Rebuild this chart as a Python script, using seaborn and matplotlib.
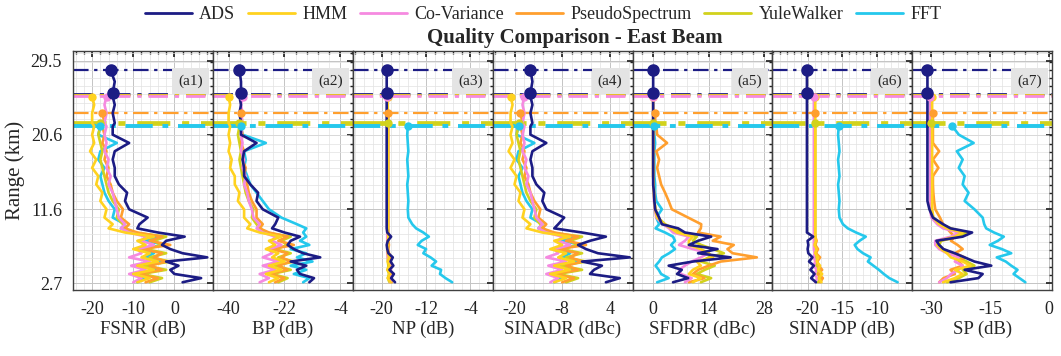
import pandas as pd
import seaborn as sns
import matplotlib.pyplot as plt
from matplotlib.lines import Line2D
from matplotlib.ticker import AutoMinorLocator

# common range grid (km), profiles stop at each method's max range
range_km = [2.8, 3.3, 3.8, 4.3, 4.8, 5.3, 5.8, 6.3, 6.8, 7.3, 7.8, 8.3, 8.8, 9.3, 9.8,
            10.6, 11.6, 12.6, 13.6, 14.6, 15.6, 16.6, 17.6, 18.6, 19.6, 20.6, 21.6,
            22.0, 23.2, 24.2, 25.2, 25.6, 27.0, 28.4]

methods = ['ADS', 'HMM', 'Co-Variance', 'PseudoSpectrum', 'YuleWalker', 'FFT']
colors = ['#1c1c84', '#ffd21f', '#f58ae0', '#ff9f2e', '#d2d21c', '#25c8ec']

# FSNR (dB)
fsnr_ads = [2, 6.5, 0, -1, 1, -2, 8, 2, -1, -3, -2, 2.5, -4, -9, -8.5, -6.5, -11, -12, -11.5, -13.5,
            -14.5, -14.5, -15, -14.5, -11, -15, -15, -14.5, -15, -14.5, -15, -15, -14.5, -15.5]
fsnr_hmm = [-9, -6, -10, -5, -9, -4, -8, -6, -10, -7, -9, -5, -12, -16, -15, -17, -16.5, -18, -17.5, -19,
            -18.5, -20, -19, -20.5, -19.5, -20, -19.5, -20, -20, -19.5, -20]
fsnr_cov = [-10, -8, -11, -7, -10.5, -6, -11, -8, -9, -5, -8, -7, -11, -13, -12, -13.5, -14, -14.5, -15, -16,
            -15.5, -16.5, -16, -17, -16.5, -17, -16.5, -17, -16.5, -17, -16.5]
fsnr_psd = [-7, -4, -9, -3, -6, -2, -5, -3, -8, -1, -6, -3, -9, -12, -11, -13, -12.5, -14, -15, -15.5,
            -16.5, -16, -17, -16.5, -17.5, -17, -17.5, -17, -17.5]
fsnr_yw = [-6, -3, -8, -2, -7, -1, -6, -2, -7, -3, -5, -2, -10, -12, -12.5, -14, -13.5, -15, -16, -16.5,
           -17, -17.5, -18, -17.5, -18, -18.5, -18, -18]
fsnr_fft = [-9, -7, -10, -4, -8, -3, -7, -5, -9, -2, -7, -4, -10, -13, -12, -15, -14.5, -16, -17, -17.5,
            -18, -17, -18.5, -18, -14, -18.5, -18]

# BP (dB)
bp_ads = [-14, -12.5, -17, -18, -15, -20, -10.5, -16, -19, -21, -20, -17, -22, -26, -25, -24, -29, -31, -30.5, -33,
          -35, -35, -35.5, -35, -31, -36, -36, -36, -36.5, -36, -36.5, -36, -36, -36.5]
bp_hmm = [-27, -24, -28, -23, -27, -22, -26, -24, -28, -25, -27, -23, -30, -34, -33, -35, -35, -37, -36.5, -38,
          -38, -39.5, -39, -40, -39.5, -40, -39.5, -40, -40, -39.5, -40]
bp_cov = [-30, -27, -30, -25, -29, -24, -29, -26, -27, -23, -26, -25, -29, -31, -30, -32, -32.5, -33.5, -34, -35,
          -34.5, -35.5, -35, -36, -35.5, -36, -35.5, -36, -35.5, -36, -35.5]
bp_psd = [-25, -22, -27, -21, -24, -20, -23, -21, -26, -19, -24, -21, -27, -30, -29, -31, -31, -32.5, -33.5, -34,
          -35, -34.5, -35.5, -35, -36, -35.5, -36, -35.5, -36]
bp_yw = [-24, -21, -26, -20, -25, -19, -24, -20, -25, -21, -23, -20, -28, -30, -31, -32.5, -32, -33.5, -34.5, -35,
         -35.5, -36, -36.5, -36, -36.5, -37, -36.5, -36.5]
bp_fft = [-16, -14, -19, -15, -20, -13, -18, -15, -20, -14, -17, -15, -16, -15, -18, -23, -27, -29, -31, -33,
          -34, -35, -34.5, -35, -28, -35.5, -36]

# NP (dB)
np_ads = [-17.6, -18.3, -17.8, -18.6, -17.9, -18.4, -18.0, -18.8, -19.0, -19.1, -18.9, -18.3, -19.0, -19.1, -19.1,
          -19.1, -19.1, -19.1, -19.1, -19.1, -19.1, -19.1, -19.1, -19.1, -19.1, -19.1, -19.1, -19.1, -19.1, -19.1,
          -19.1, -19.1, -19.1, -19.1]
np_hmm = [-18.4, -18.9, -18.5, -19.0, -18.6, -18.9, -18.7, -18.9, -19.0, -18.9, -18.9, -18.8, -18.9, -18.9, -18.9,
          -18.9, -18.9, -18.9, -18.9, -18.9, -18.9, -18.9, -18.9, -18.9, -18.9, -18.9, -18.9, -18.9, -18.9, -18.9,
          -18.9]
np_cov = [-18.5, -18.2, -18.6, -18.3, -18.5, -18.8, -18.9, -19.0, -19.0, -19.0, -19.0, -19.0, -19.0, -19.0, -19.0,
          -19.0, -19.0, -19.0, -19.0, -19.0, -19.0, -19.0, -19.0, -19.0, -19.0, -19.0, -19.0, -19.0, -19.0, -19.0,
          -19.0]
np_psd = [-18.2, -18.6, -18.1, -18.7, -18.3, -18.6, -18.4, -18.7, -18.8, -18.7, -18.8, -18.7, -18.8, -18.8, -18.8,
          -18.8, -18.8, -18.8, -18.8, -18.8, -18.8, -18.8, -18.8, -18.8, -18.8, -18.8, -18.8, -18.8, -18.8]
np_yw = [-18.6, -18.9, -18.7, -18.9, -18.8, -18.9, -18.9, -18.9, -18.9, -18.9, -18.9, -18.9, -18.9, -18.9, -18.9,
         -18.9, -18.9, -18.9, -18.9, -18.9, -18.9, -18.9, -18.9, -18.9, -18.9, -18.9, -18.9, -18.9]
np_fft = [-7.3, -8.5, -9.5, -9.3, -11, -10.2, -11.2, -12.5, -12.0, -13.5, -12.8, -11.5, -12.5, -13.8, -14.5,
          -15.2, -15.3, -15.2, -15.3, -15.4, -15.2, -15.3, -15.4, -15.2, -15.3, -15.4, -15.3]

# SINADR (dBc)
sinadr_ads = [3, 6.5, -1, 0, 2, -3, 9, 1, -2, -4, -1, 3, -3, -10, -9, -7.5, -12, -13, -12.5, -14.5,
              -15.5, -15.5, -16, -15.5, -12, -16, -16, -15.5, -16, -15.5, -16, -16, -15.5, -16]
sinadr_hmm = [-10, -7, -11, -6, -10, -5, -9, -7, -11, -8, -10, -6, -13, -17, -16, -18, -17.5, -19, -18.5, -20,
              -19.5, -21, -20, -21.5, -20.5, -21, -20.5, -21, -21, -20.5, -21]
sinadr_cov = [-11, -9, -12, -8, -11.5, -7, -12, -9, -10, -6, -9, -8, -12, -14, -13, -14.5, -15, -15.5, -16, -17,
              -16.5, -17.5, -17, -18, -17.5, -18, -17.5, -18, -17.5, -18, -17.5]
sinadr_psd = [-8, -5, -10, -4, -7, -3, -6, -4, -9, -2, -7, -4, -10, -13, -12, -14, -13.5, -15, -16, -16.5,
              -17.5, -17, -18, -17.5, -18.5, -18, -18.5, -18, -18.5]
sinadr_yw = [-7, -4, -9, -3, -8, -2, -7, -3, -8, -4, -6, -3, -11, -13, -13.5, -15, -14.5, -16, -17, -17.5,
             -18, -18.5, -19, -18.5, -19, -19.5, -19, -19]
sinadr_fft = [-10, -8, -11, -5, -9, -4, -8, -6, -10, -3, -8, -5, -11, -14, -13, -16, -15.5, -17, -18, -18.5,
              -19, -18, -19.5, -19, -15, -19.5, -19]

# SFDRR (dBc)
sfdrr_ads = [5, 8.8, 6, 7.2, 3.9, 10, 19.5, 11.3, 16.2, 9, 11.3, 14.6, 8, 6.3, 2.2, 1.5, 0.5, 0.3, 0.2, 0,
             0, 0, 0, 0, 0, 0, 0, 0, 0, 0, 0, 0, 0, 0]
sfdrr_hmm = [10, 12, 9, 10, 12, 11, 15, 14, 12, 9, 9, 10, 6, 4.5, 2.8, 1, 0.5, 0.3, 0.2, 0.1,
             0, 0, 0, 0, 0, 0, 0, 0, 0, 0, 0]
sfdrr_cov = [8, 9.7, 7, 6.5, 8, 9.7, 12, 13.9, 10, 6.5, 8, 9, 5, 4, 2.5, 0.8, 0.4, 0.2, 0.2, 0.1,
             0, 0, 0, 0, 0, 0, 0, 0, 0, 0, 0]
sfdrr_psd = [9, 12.9, 10, 11.3, 14, 17, 26.1, 20, 18.7, 20.3, 15, 17, 11.3, 12, 12.1, 8.8, 4.7, 3.9, 3.0, 2,
             1.5, 1, 1.5, 0.8, 3.5, 1, 0.8, 0.5, 0.5]
sfdrr_yw = [12, 14.6, 11, 13, 15.5, 12, 14, 17.8, 15, 12.1, 10, 11, 7, 5, 3, 1.2, 0.6, 0.3, 0.2, 0.1,
            0, 0, 0, 0, 0, 0, 0, 0]
sfdrr_fft = [1, 3.9, 2, 1.4, 0.6, 1.5, 2.2, 4, 5.5, 4.5, 5.5, 5, 3, 0.6, 1.5, 0.8, 2.2, 0.8, 0.5, 0.5,
             0.3, 0.3, 0.3, 0.3, 0.5, 0.3, 0.3]

# SINADP (dB)
sinadp_ads = [-18.8, -19.5, -19.0, -19.6, -19.1, -19.8, -19.3, -19.9, -20.0, -19.9, -20.0, -19.2, -20.1, -20.1,
              -20.1, -20.1, -20.1, -20.1, -20.1, -20.1, -20.1, -20.1, -20.1, -20.1, -20.1, -20.1, -20.1, -20.1,
              -20.1, -20.1, -20.1, -20.1, -20.1, -20.1]
sinadp_hmm = [-18.0, -18.4, -17.9, -18.5, -18.2, -18.7, -18.5, -18.9, -18.7, -19.0, -18.8, -18.9, -18.9, -18.9,
              -18.9, -18.9, -18.9, -18.9, -18.9, -18.9, -18.9, -18.9, -18.9, -18.9, -18.9, -18.9, -18.9, -18.9,
              -18.9, -18.9, -18.9]
sinadp_cov = [-18.9, -18.6, -19.0, -18.7, -19.1, -18.9, -19.1, -19.0, -19.1, -19.1, -19.1, -19.1, -19.1, -19.1,
              -19.1, -19.1, -19.1, -19.1, -19.1, -19.1, -19.1, -19.1, -19.1, -19.1, -19.1, -19.1, -19.1, -19.1,
              -19.1, -19.1, -19.1]
sinadp_psd = [-18.2, -17.8, -18.5, -17.9, -18.4, -18.6, -18.2, -18.8, -18.5, -18.9, -18.7, -18.9, -19.0, -19.0,
              -19.0, -19.0, -19.0, -19.0, -19.0, -19.0, -19.0, -19.0, -19.0, -19.0, -19.0, -19.0, -19.0, -19.0,
              -19.0]
sinadp_yw = [-18.5, -18.1, -18.6, -18.3, -18.8, -18.6, -18.9, -18.8, -18.9, -18.9, -18.9, -18.9, -18.9, -18.9,
             -18.9, -18.9, -18.9, -18.9, -18.9, -18.9, -18.9, -18.9, -18.9, -18.9, -18.9, -18.9, -18.9, -18.9]
sinadp_fft = [-7.0, -8.2, -9.0, -9.7, -10.5, -11.3, -10.9, -12.0, -12.8, -13.2, -12.5, -11.6, -13.0, -14.2,
              -14.9, -15.4, -15.5, -15.4, -15.5, -15.6, -15.4, -15.5, -15.6, -15.4, -15.5, -15.6, -15.5]

# SP (dB)
sp_ads = [-25.1, -18, -16.9, -21.5, -14.7, -19, -21.5, -24, -26.9, -28, -28.7, -22, -19.6, -25.1, -27, -29.6,
          -30.5, -31, -31, -31, -31, -31, -31, -31, -31, -31, -31, -31, -31, -31, -31, -31, -31, -31]
sp_hmm = [-27, -24, -22, -24, -20, -22, -25, -26, -27.5, -28.5, -28, -24, -22, -26, -28, -29.5,
          -29.8, -29.8, -29.8, -29.8, -29.8, -29.8, -29.8, -29.8, -29.8, -29.8, -29.8, -29.8, -29.8, -29.8, -29.8]
sp_cov = [-28, -26, -25, -23, -22, -24, -23, -26, -28, -29, -29, -25, -23, -27, -28.5, -30,
          -30.3, -30.3, -30.3, -30.3, -30.3, -30.3, -30.3, -30.3, -30.3, -30.3, -30.3, -30.3, -30.3, -30.3, -30.3]
sp_psd = [-28, -26.9, -24, -25.1, -22, -23, -21.5, -24, -22, -23.3, -25, -24, -25.1, -26, -27, -27.8,
          -29, -29.3, -29.5, -29.6, -29.6, -28.2, -29.6, -28, -29.6, -29.6, -29.6, -29.6, -29.6]
sp_yw = [-26, -23, -21, -22, -19, -21, -23, -25, -27, -28, -27.5, -23, -21, -25, -27.5, -29.5,
         -30, -30, -30, -30, -30, -30, -30, -30, -30, -30, -30, -30]
sp_fft = [-6.0, -7.5, -9, -8, -9.6, -11, -13.3, -9.6, -12, -15.1, -13, -11.5, -14, -16, -16.5, -16.9,
          -19, -21.5, -20.5, -22, -21.5, -23, -22, -23.5, -19.2, -23, -24.6]

panel_labels = ['FSNR (dB)', 'BP (dB)', 'NP (dB)', 'SINADR (dBc)', 'SFDRR (dBc)', 'SINADP (dB)', 'SP (dB)']
panel_tags = ['(a1)', '(a2)', '(a3)', '(a4)', '(a5)', '(a6)', '(a7)']
panel_xlims = [(-24.6, 9.4), (-45, 0), (-25.2, 0), (-25.5, 9.7), (-5.2, 30), (-25.1, -4.9), (-34.9, 0.8)]
panel_xticks = [[-20, -10, 0], [-40, -22, -4], [-20, -12, -4], [-20, -8, 4], [0, 14, 28],
                [-20, -15, -10], [-30, -15, 0]]
panel_data = [
    [fsnr_ads, fsnr_hmm, fsnr_cov, fsnr_psd, fsnr_yw, fsnr_fft],
    [bp_ads, bp_hmm, bp_cov, bp_psd, bp_yw, bp_fft],
    [np_ads, np_hmm, np_cov, np_psd, np_yw, np_fft],
    [sinadr_ads, sinadr_hmm, sinadr_cov, sinadr_psd, sinadr_yw, sinadr_fft],
    [sfdrr_ads, sfdrr_hmm, sfdrr_cov, sfdrr_psd, sfdrr_yw, sfdrr_fft],
    [sinadp_ads, sinadp_hmm, sinadp_cov, sinadp_psd, sinadp_yw, sinadp_fft],
    [sp_ads, sp_hmm, sp_cov, sp_psd, sp_yw, sp_fft],
]

# max range lines (dash-dot), one colour per method
cut_range = [28.4, 25.55, 25.4, 25.25, 23.2, 22.0, 21.6]
cut_method = [0, 0, 1, 2, 3, 4, 5]
cut_width = [1.6, 2.0, 2.0, 2.0, 1.6, 3.4, 2.8]

range_ticks = [2.7, 11.6, 20.6, 29.5]

sns.set_theme(style='white')
plt.rcParams['font.family'] = ['Liberation Serif', 'DejaVu Serif']
plt.rcParams['axes.unicode_minus'] = False

fig, axes = plt.subplots(1, 7, figsize=(10.61, 3.56), dpi=100, sharey=True)
fig.subplots_adjust(left=0.069, right=0.9915, top=0.857, bottom=0.185, wspace=0)

palette = dict(zip(methods, colors))
draw_order = methods[::-1]

for i, ax in enumerate(axes):
    rows = []
    for m, vals in zip(methods, panel_data[i]):
        for r, v in zip(range_km, vals):
            rows.append({'method': m, 'range': r, 'value': v})
    df = pd.DataFrame(rows)

    for k in range(len(cut_range)):
        ax.axhline(cut_range[k], color=colors[cut_method[k]], lw=cut_width[k],
                   ls=(0, (7, 2.5, 1.5, 2.5)), zorder=2)

    sns.lineplot(data=df, x='value', y='range', hue='method', hue_order=draw_order,
                 palette=palette, estimator=None, sort=False, orient='y', lw=1.9,
                 legend=False, ax=ax, zorder=3)

    # end-of-profile markers
    for j, m in enumerate(methods):
        vals = panel_data[i][j]
        size = 8 if m == 'ADS' else 5
        ax.plot(vals[-1], range_km[len(vals) - 1], 'o', color=colors[j], ms=size, zorder=4)
    ax.plot(panel_data[i][0][31], range_km[31], 'o', color=colors[0], ms=8, zorder=4)

    ax.set_xlim(panel_xlims[i])
    ax.set_ylim(1.85, 30.7)
    ax.set_xticks(panel_xticks[i])
    ax.set_yticks(range_ticks)
    ax.set_yticklabels([str(t) for t in range_ticks])
    ax.xaxis.set_minor_locator(AutoMinorLocator(5))
    ax.yaxis.set_minor_locator(AutoMinorLocator(9))
    ax.grid(which='major', color='#c4c4c4', lw=0.7)
    ax.grid(which='minor', color='#e2e2e2', lw=0.5)
    ax.set_axisbelow(True)
    ax.tick_params(which='both', direction='in', top=True, right=True, labelsize=13,
                   colors='#222222')
    ax.tick_params(which='major', length=4, pad=8)
    ax.tick_params(which='minor', length=2)
    for s in ax.spines.values():
        s.set_color('#404040')
        s.set_linewidth(1.0)
    ax.set_xlabel(panel_labels[i], fontsize=13.5, labelpad=2)
    ax.set_ylabel('')
    ax.text(0.84, 0.875, panel_tags[i], transform=ax.transAxes, ha='center', va='center',
            fontsize=11, family=['Liberation Serif', 'DejaVu Serif'], zorder=5,
            bbox=dict(boxstyle='square,pad=0.4', fc='#e4e4e4', ec='none'))

axes[0].set_ylabel('Range (km)', fontsize=15, labelpad=4)

fig.text(0.542, 0.893, 'Quality Comparison - East Beam', ha='center', va='center',
         fontsize=15, fontweight='bold')

handles = [Line2D([0], [0], color=c, lw=2) for c in colors]
fig.legend(handles, methods, loc='center', bbox_to_anchor=(0.512, 0.958), ncol=6,
           frameon=False, fontsize=13, handlelength=2.6, columnspacing=0.7, handletextpad=0.4)

fig.savefig('out.png', dpi=100)
